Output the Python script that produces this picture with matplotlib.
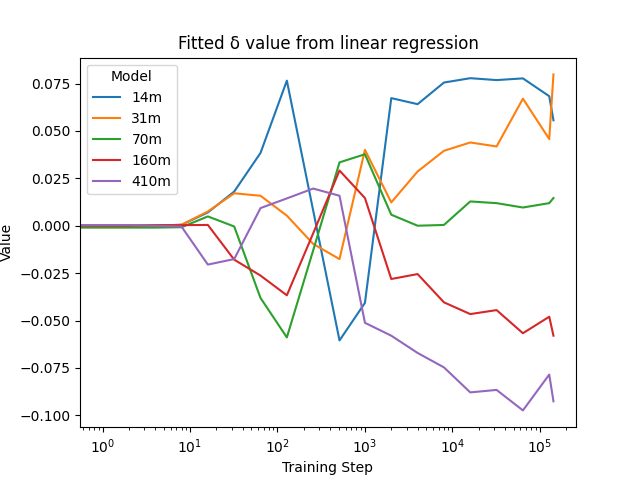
import matplotlib
matplotlib.use("Agg")
import matplotlib.pyplot as plt

steps = [0, 1, 2, 4, 8, 16, 32, 64, 128, 256, 512, 1000, 2000, 4000,
         8000, 16000, 32000, 64000, 128000, 143000]

models = ["14m", "31m", "70m", "160m", "410m"]

delta_14m = [0.0, 0.0, 0.0, 0.0, 0.0005, 0.007, 0.018, 0.0384, 0.0765, 0.008,
             -0.0605, -0.0407, 0.0673, 0.0641, 0.0755, 0.0778, 0.0768, 0.0777, 0.0683, 0.0556]
delta_31m = [0.0, 0.0, 0.0, 0.0, 0.0005, 0.0075, 0.0171, 0.0158, 0.0053, -0.0096,
             -0.0176, 0.04, 0.0123, 0.0286, 0.0395, 0.0439, 0.0418, 0.067, 0.0457, 0.0798]
delta_70m = [-0.001, -0.001, -0.001, -0.001, -0.0008, 0.0049, -0.0004, -0.0381, -0.0589, -0.013,
             0.0334, 0.0377, 0.0058, 0.0, 0.0004, 0.0128, 0.0119, 0.0096, 0.0119, 0.0146]
delta_160m = [0.0, 0.0, 0.0, 0.0003, 0.0003, 0.0004, -0.0179, -0.0263, -0.0367, -0.004,
              0.0291, 0.0146, -0.0281, -0.0255, -0.0404, -0.0466, -0.0445, -0.0567, -0.048, -0.058]
delta_410m = [0.0003, 0.0003, 0.0003, 0.0, -0.0005, -0.0205, -0.0176, 0.0093, 0.0144, 0.0196,
              0.0158, -0.0512, -0.058, -0.0671, -0.0747, -0.0879, -0.0866, -0.0974, -0.0785, -0.0926]

series = [delta_14m, delta_31m, delta_70m, delta_160m, delta_410m]

fig, ax = plt.subplots(figsize=(6.4, 4.8), dpi=100)
for name, vals in zip(models, series):
    ax.plot(steps, vals, label=name)
ax.set_xscale("log")
ax.set_xlabel("Training Step")
ax.set_ylabel("Value")
ax.set_title("Fitted δ value from linear regression")
ax.legend(title="Model", loc="upper left")
fig.savefig("out.png")
